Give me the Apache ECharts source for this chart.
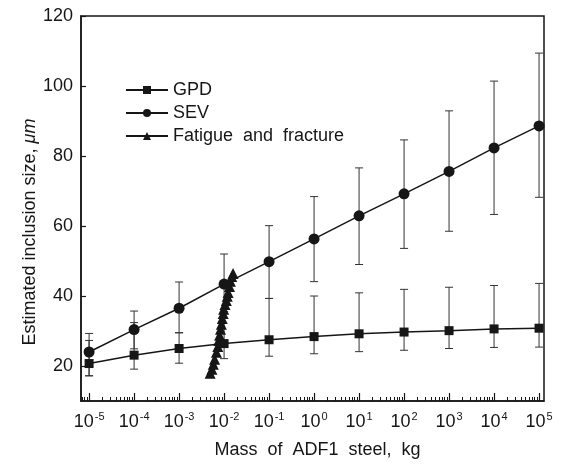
<!DOCTYPE html>
<html>
<head>
<meta charset="utf-8">
<script src="https://cdn.jsdelivr.net/npm/echarts@6/dist/echarts.min.js"></script>
<style>
  html, body { margin: 0; padding: 0; background: #fff; }
  #chart { width: 569px; height: 464px; }
</style>
</head>
<body>
<div id="chart"></div>
<script>
// x is log10 of mass (kg)
const logMass = [-5, -4, -3, -2, -1, 0, 1, 2, 3, 4, 5]
const gpd = [20.7, 23.1, 25.0, 26.4, 27.5, 28.4, 29.2, 29.7, 30.1, 30.6, 30.8]
const gpdLow = [17.2, 19.1, 20.8, 22.1, 22.8, 23.5, 24.1, 24.5, 25.0, 25.3, 25.4]
const gpdHigh = [27.3, 32.4, 29.5, 35.5, 39.3, 40.0, 40.9, 41.9, 42.5, 43.0, 43.6]
const sev = [24.0, 30.4, 36.5, 43.4, 49.8, 56.3, 62.9, 69.2, 75.6, 82.3, 88.6]
const sevLow = [17.2, 24.9, 29.5, 35.5, 39.3, 44.1, 49.0, 53.6, 58.5, 63.3, 68.2]
const sevHigh = [29.3, 35.7, 44.0, 52.0, 60.1, 68.4, 76.6, 84.6, 92.9, 101.4, 109.4]
// fatigue and fracture test points
const fatigueLogMass = [-2.31, -2.27, -2.24, -2.21, -2.17, -2.14, -2.12, -2.10, -2.08, -2.06, -2.04, -2.02, -2.01, -1.98, -1.95, -1.93, -1.91, -1.88, -1.86, -1.83, -1.80]
const fatigueSize = [17.9, 19.1, 20.5, 21.9, 23.9, 25.6, 27.3, 28.8, 30.5, 31.9, 33.6, 35.0, 36.2, 37.6, 38.7, 39.9, 41.0, 42.7, 44.2, 45.6, 46.4]
const yTicks = [20, 40, 60, 80, 100, 120]

const xMin = -5.18
const xMax = 5.11
const minorTicks = []
for (let n = -6; n <= 5; n++) {
  for (let k = 2; k <= 9; k++) {
    const v = n + Math.log10(k)
    if (v > xMin && v < xMax) minorTicks.push(v)
  }
}

const ink = '#161616'
const font = 'Liberation Sans, Arial, sans-serif'

function errBars (low, high) {
  return logMass.map((x, i) => [x, low[i], high[i]])
}

function renderErr (params, api) {
  const x = api.value(0)
  const lo = api.coord([x, api.value(1)])
  const hi = api.coord([x, api.value(2)])
  const hw = 4
  const style = { stroke: '#333', lineWidth: 1 }
  return {
    type: 'group',
    children: [
      { type: 'line', shape: { x1: lo[0], y1: lo[1], x2: hi[0], y2: hi[1] }, style },
      { type: 'line', shape: { x1: lo[0] - hw, y1: lo[1], x2: lo[0] + hw, y2: lo[1] }, style },
      { type: 'line', shape: { x1: hi[0] - hw, y1: hi[1], x2: hi[0] + hw, y2: hi[1] }, style }
    ]
  }
}

const chart = echarts.init(document.getElementById('chart'))
chart.setOption({
  animation: false,
  backgroundColor: '#fff',
  textStyle: { fontFamily: font, color: ink },
  grid: {
    left: 81,
    right: 25,
    top: 16,
    bottom: 61,
    show: true,
    borderColor: ink,
    borderWidth: 1.5
  },
  legend: {
    orient: 'vertical',
    left: 120,
    top: 76,
    itemWidth: 42,
    itemHeight: 10,
    itemGap: 5,
    textStyle: { fontFamily: font, fontSize: 18, color: ink },
    data: ['GPD', 'SEV', 'Fatigue  and  fracture']
  },
  xAxis: [
    {
      type: 'value',
      min: xMin,
      max: xMax,
      splitLine: { show: false },
      axisLine: { onZero: false, lineStyle: { color: ink, width: 1.5 } },
      axisTick: {
        inside: true,
        length: 8,
        customValues: logMass,
        lineStyle: { color: ink, width: 1.2 }
      },
      axisLabel: {
        customValues: logMass,
        margin: 10,
        formatter: v => '{b|10}{s|' + v + '}',
        rich: {
          b: { fontFamily: font, fontSize: 18, color: ink, lineHeight: 22 },
          s: { fontFamily: font, fontSize: 11, color: ink, lineHeight: 11, verticalAlign: 'top', padding: [0, 0, 0, 1] }
        }
      },
      name: 'Mass  of  ADF1  steel,  kg',
      nameLocation: 'middle',
      nameGap: 40,
      nameMoveOverlap: false,
      nameTextStyle: { fontFamily: font, fontSize: 18, color: ink, padding: [0, 0, 0, 10] }
    },
    {
      type: 'value',
      min: xMin,
      max: xMax,
      position: 'bottom',
      splitLine: { show: false },
      axisLine: { show: false, onZero: false },
      axisTick: {
        inside: true,
        length: 4,
        customValues: minorTicks,
        lineStyle: { color: ink, width: 1 }
      },
      axisLabel: { show: false }
    }
  ],
  yAxis: {
    type: 'value',
    min: 10,
    max: 120,
    splitLine: { show: false },
    axisLine: { onZero: false, lineStyle: { color: ink, width: 1.5 } },
    axisTick: {
      inside: true,
      length: 5,
      customValues: yTicks,
      lineStyle: { color: ink, width: 1.2 }
    },
    axisLabel: {
      customValues: yTicks,
      margin: 8,
      fontFamily: font,
      fontSize: 18,
      color: ink
    },
    name: 'Estimated inclusion size, {i|μm}',
    nameLocation: 'middle',
    nameGap: 42,
    nameMoveOverlap: false,
    nameTextStyle: {
      fontFamily: font,
      fontSize: 18,
      color: ink,
      padding: [0, 47, 0, 0],
      rich: { i: { fontFamily: font, fontSize: 18, fontStyle: 'italic', color: ink } }
    }
  },
  series: [
    {
      type: 'custom',
      name: 'gpdErr',
      renderItem: renderErr,
      encode: { x: 0, y: [1, 2] },
      data: errBars(gpdLow, gpdHigh),
      z: 1
    },
    {
      type: 'custom',
      name: 'sevErr',
      renderItem: renderErr,
      encode: { x: 0, y: [1, 2] },
      data: errBars(sevLow, sevHigh),
      z: 1
    },
    {
      name: 'GPD',
      type: 'line',
      data: logMass.map((x, i) => [x, gpd[i]]),
      symbol: 'rect',
      symbolSize: 9,
      itemStyle: { color: ink },
      lineStyle: { color: ink, width: 1.5 },
      z: 3
    },
    {
      name: 'SEV',
      type: 'line',
      data: logMass.map((x, i) => [x, sev[i]]),
      symbol: 'circle',
      symbolSize: 11,
      itemStyle: { color: ink },
      lineStyle: { color: ink, width: 1.5 },
      z: 3
    },
    {
      name: 'Fatigue  and  fracture',
      type: 'line',
      data: fatigueLogMass.map((x, i) => [x, fatigueSize[i]]),
      symbol: 'triangle',
      symbolSize: 11,
      itemStyle: { color: ink },
      lineStyle: { color: ink, width: 1.5 },
      z: 4
    }
  ]
})
</script>
</body>
</html>
